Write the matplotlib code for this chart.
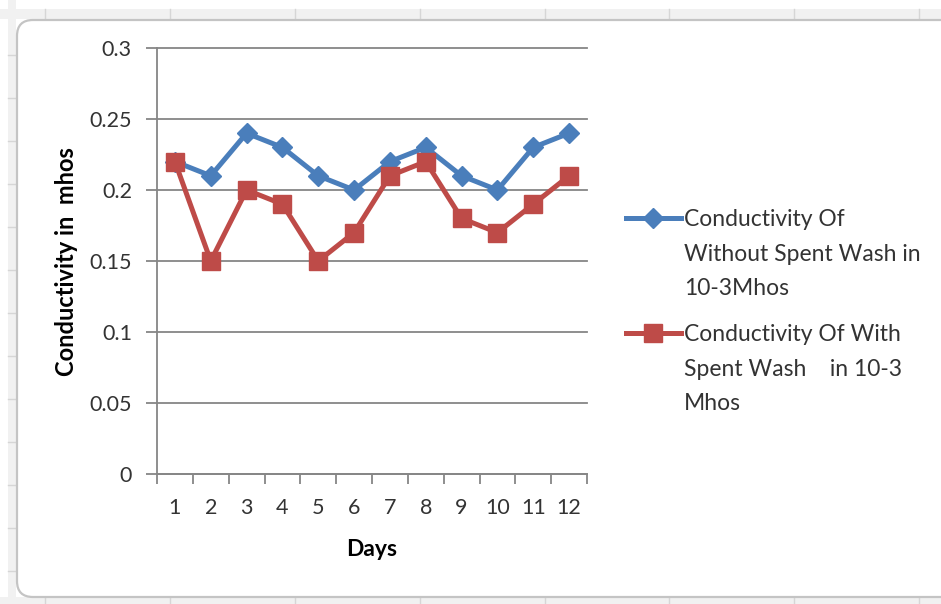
import numpy as np
import matplotlib
matplotlib.use("Agg")
import matplotlib.pyplot as plt
from matplotlib.patches import Rectangle, FancyBboxPatch
from matplotlib.lines import Line2D
from matplotlib.transforms import IdentityTransform

plt.rcParams['font.family'] = ['Lato', 'DejaVu Sans']

days = [1, 2, 3, 4, 5, 6, 7, 8, 9, 10, 11, 12]
without_sw = [0.22, 0.21, 0.24, 0.23, 0.21, 0.20, 0.22, 0.23, 0.21, 0.20, 0.23, 0.24]
with_sw = [0.22, 0.15, 0.20, 0.19, 0.15, 0.17, 0.21, 0.22, 0.18, 0.17, 0.19, 0.21]
yticks = [0, 0.05, 0.1, 0.15, 0.2, 0.25, 0.3]
ytick_labels = ["0", "0.05", "0.1", "0.15", "0.2", "0.25", "0.3"]
legend_labels = ["Conductivity Of\nWithout Spent Wash in\n10-3Mhos",
                 "Conductivity Of With\nSpent Wash    in 10-3\nMhos"]

W, H = 941, 604
blue = "#4a7ebb"
red = "#be4b48"
txt = "#333333"

fig = plt.figure(figsize=(W / 100, H / 100), dpi=100)
fig.patch.set_facecolor("white")
pix = IdentityTransform()

def py(y):
    # pixel rows counted from the top
    return H - y

# sheet strips around the chart box
bg = dict(transform=pix, zorder=-5)
fig.add_artist(Rectangle((0, py(19)), W, 10, facecolor="#f1f1f1", edgecolor="none", **bg))
fig.add_artist(Rectangle((8, 0), 8, H, facecolor="#f1f1f1", edgecolor="none", **bg))
fig.add_artist(Rectangle((0, 0), W, 7, facecolor="#f1f1f1", edgecolor="none", **bg))
for x in [45, 170, 295, 420, 545, 669, 794, 919]:
    fig.add_artist(Line2D([x, x], [py(19), py(9)], color="#d6d6d6", lw=1, **bg))
    fig.add_artist(Line2D([x, x], [0, 7], color="#d6d6d6", lw=1, **bg))
for y in range(55, 600, 43):
    fig.add_artist(Line2D([8, 16], [py(y), py(y)], color="#d6d6d6", lw=1, **bg))

# chart box with rounded corners
fig.add_artist(FancyBboxPatch((17, py(597)), 960, 577, transform=pix, zorder=-4,
                              boxstyle="round,pad=0,rounding_size=16",
                              facecolor="white", edgecolor="#c4c4c4", lw=1.6))

ax = fig.add_axes([157 / W, 1 - 474 / H, 430 / W, 426 / H])
ax.set_facecolor("none")
ax.plot(days, without_sw, color=blue, lw=3.6, marker="D", ms=10.5, mfc=blue, mec=blue,
        solid_joinstyle="round", zorder=3)
ax.plot(days, with_sw, color=red, lw=3.6, marker="s", ms=12.5, mfc=red, mec=red,
        solid_joinstyle="round", zorder=4)

ax.set_xlim(0.5, 12.5)
ax.set_ylim(0, 0.3)
ax.set_yticks(yticks)
ax.set_yticklabels(ytick_labels)
ax.set_xticks(days)
ax.set_xticklabels([str(d) for d in days])
ax.set_xticks(np.arange(0.5, 13, 1), minor=True)
ax.tick_params(axis="x", which="major", length=0, pad=17, labelsize=15.5, labelcolor=txt)
ax.tick_params(axis="x", which="minor", length=7, width=1.3, color="#868686", direction="out")
ax.tick_params(axis="y", length=8, width=1.3, color="#868686", pad=10, labelsize=15.5, labelcolor=txt)
ax.grid(axis="y", color="#868686", lw=1.3)
ax.set_axisbelow(True)
for s in ["top", "right"]:
    ax.spines[s].set_visible(False)
for s in ["left", "bottom"]:
    ax.spines[s].set_color("#868686")
    ax.spines[s].set_linewidth(1.3)
for gl in ax.get_ygridlines():
    gl.set_clip_on(False)

fig.text(67 / W, 1 - 262 / H, "Conductivity in  mhos", rotation=90, ha="center", va="center",
         fontsize=17, fontweight="bold", color="black")
fig.text(372 / W, 1 - 550 / H, "Days", ha="center", va="center",
         fontsize=16.5, fontweight="bold", color="black")

# legend entries drawn by hand so the key sits on the first text line
for (ytop, lab, col, mk, ms) in [(218, legend_labels[0], blue, "D", 10.5),
                                  (333, legend_labels[1], red, "s", 12.5)]:
    fig.add_artist(Line2D([626, 681], [py(ytop), py(ytop)], transform=pix, color=col, lw=3.6))
    fig.add_artist(Line2D([653], [py(ytop)], transform=pix, color=col, marker=mk, ms=ms, lw=0))
    fig.text(684 / W, 1 - (ytop - 9) / H, lab, ha="left", va="top", fontsize=16.5,
             color=txt, linespacing=1.8)

fig.savefig("out.png", dpi=100)
